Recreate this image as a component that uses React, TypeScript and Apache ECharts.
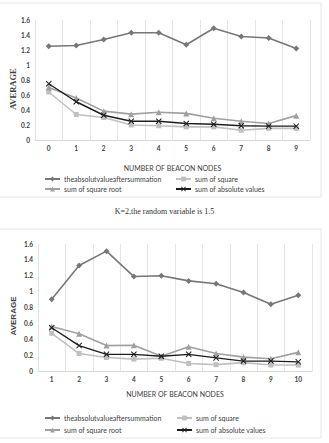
import React, { useEffect, useRef } from "react";
import * as echarts from "echarts";

// Category labels (number of beacon nodes)
const nodesA = ["0", "1", "2", "3", "4", "5", "6", "7", "8", "9"];
const nodesB = ["1", "2", "3", "4", "5", "6", "7", "8", "9", "10"];

// Series names
const NAME_SUM = "theabsolutvalueaftersummation";
const NAME_SQ = "sum of square";
const NAME_ROOT = "sum of square root";
const NAME_ABS = "sum of absolute values";

// Upper chart values
const sumA = [1.25, 1.26, 1.34, 1.43, 1.43, 1.27, 1.49, 1.38, 1.36, 1.22];
const sqA = [0.64, 0.34, 0.3, 0.2, 0.19, 0.175, 0.175, 0.13, 0.155, 0.155];
const rootA = [0.7, 0.56, 0.385, 0.345, 0.37, 0.355, 0.29, 0.25, 0.22, 0.325];
const absA = [0.75, 0.51, 0.33, 0.25, 0.25, 0.22, 0.21, 0.19, 0.185, 0.185];

// Lower chart values
const sumB = [0.905, 1.33, 1.51, 1.19, 1.2, 1.135, 1.1, 0.99, 0.84, 0.955];
const sqB = [0.475, 0.22, 0.17, 0.15, 0.16, 0.095, 0.08, 0.105, 0.075, 0.075];
const rootB = [0.56, 0.47, 0.32, 0.325, 0.185, 0.305, 0.22, 0.175, 0.155, 0.235];
const absB = [0.545, 0.32, 0.21, 0.21, 0.185, 0.21, 0.165, 0.125, 0.125, 0.115];

const CAPTION = "K=2,the random variable is 1.5";
const Y_TITLE = "AVERAGE";

const CROSS =
  "path://M0,1.2L1.2,0L5,3.8L8.8,0L10,1.2L6.2,5L10,8.8L8.8,10L5,6.2L1.2,10L0,8.8L3.8,5Z";

const SANS = "Lato, 'Liberation Sans', sans-serif";

function lineSeries(name: string, data: number[], idx: number, color: string, symbol: string, size: number, width: number, z: number) {
  return {
    type: "line",
    name,
    data,
    xAxisIndex: idx,
    yAxisIndex: idx,
    symbol,
    symbolSize: size,
    lineStyle: { color, width },
    itemStyle: { color, borderWidth: 0 },
    z,
  };
}

function xAxis(idx: number, data: string[], nameGap: number) {
  return {
    type: "category",
    gridIndex: idx,
    data,
    boundaryGap: true,
    name: "NUMBER OF BEACON NODES",
    nameLocation: "middle",
    nameGap,
    nameTextStyle: { fontFamily: SANS, fontSize: 7, color: "#404040" },
    axisLine: { show: true, lineStyle: { color: "#d9d9d9", width: 1 } },
    axisTick: { show: false },
    axisLabel: { fontFamily: SANS, fontSize: 6.5, fontWeight: "bold", color: "#404040", margin: 5 },
    splitLine: { show: true, lineStyle: { color: "#e4e4e4", width: 1 } },
  };
}

function yAxis(idx: number) {
  return {
    type: "value",
    gridIndex: idx,
    min: 0,
    max: 1.6,
    interval: 0.2,
    axisLine: { show: false },
    axisTick: { show: false },
    splitLine: { show: false },
    axisLabel: { fontFamily: SANS, fontSize: 6.5, fontWeight: "bold", color: "#404040", margin: 5 },
  };
}

function legend(left: number, top: number, data: string[], gap: number) {
  return {
    orient: "vertical",
    left,
    top,
    data,
    itemWidth: 15,
    itemHeight: 6,
    itemGap: gap,
    padding: 0,
    selectedMode: false,
    textStyle: { fontFamily: SANS, fontSize: 7, color: "#404040", lineHeight: 7, padding: [0, 0, 0, -1] },
  };
}

function yTitle(x: number, y: number, font: string, size: number) {
  return {
    type: "text",
    x,
    y,
    rotation: Math.PI / 2,
    silent: true,
    style: {
      text: Y_TITLE,
      fontFamily: font,
      fontSize: size,
      fontWeight: "bold",
      fill: "#404040",
      align: "center",
      verticalAlign: "middle",
    },
  };
}

export default function App() {
  const ref = useRef<HTMLDivElement>(null);

  useEffect(() => {
    if (!ref.current) return;
    const chart = echarts.init(ref.current, undefined, { renderer: "svg" });
    chart.setOption({
      animation: false,
      backgroundColor: "#ffffff",
      title: {
        text: CAPTION,
        left: "center",
        top: 207,
        padding: 0,
        textStyle: { fontFamily: "'Liberation Serif', serif", fontSize: 8, fontWeight: "normal", color: "#333" },
      },
      graphic: [
        { type: "rect", shape: { x: -1, y: 3, width: 322, height: 194 }, style: { fill: "none", stroke: "#e6e6e6", lineWidth: 1 }, silent: true },
        { type: "rect", shape: { x: -1, y: 229, width: 322, height: 209 }, style: { fill: "none", stroke: "#e6e6e6", lineWidth: 1 }, silent: true },
        yTitle(13, 89, "'Liberation Serif', serif", 8.5),
        yTitle(13, 316, "'Liberation Sans Narrow', 'Liberation Sans', sans-serif", 8),
      ],
      grid: [
        { left: 35, right: 19, top: 20, height: 120 },
        { left: 38, right: 17, top: 244, height: 127 },
      ],
      xAxis: [xAxis(0, nodesA, 24), xAxis(1, nodesB, 19)],
      yAxis: [yAxis(0), yAxis(1)],
      legend: [
        legend(44, 175.5, [NAME_SUM, NAME_ROOT], 3),
        legend(175, 175.5, [NAME_SQ, NAME_ABS], 3),
        legend(44, 414.5, [NAME_SUM, NAME_ROOT], 5),
        legend(176, 414.5, [NAME_SQ, NAME_ABS], 5),
      ],
      series: [
        lineSeries(NAME_SUM, sumA, 0, "#777777", "diamond", 6, 1.6, 3),
        lineSeries(NAME_SQ, sqA, 0, "#c0c0c0", "rect", 5, 1.6, 2),
        lineSeries(NAME_ROOT, rootA, 0, "#a0a0a0", "triangle", 6, 1.6, 3),
        lineSeries(NAME_ABS, absA, 0, "#1e1e1e", CROSS, 6, 1.4, 4),
        lineSeries(NAME_SUM, sumB, 1, "#777777", "diamond", 6, 1.6, 3),
        lineSeries(NAME_SQ, sqB, 1, "#c0c0c0", "rect", 5, 1.6, 2),
        lineSeries(NAME_ROOT, rootB, 1, "#a0a0a0", "triangle", 6, 1.6, 3),
        lineSeries(NAME_ABS, absB, 1, "#1e1e1e", CROSS, 6, 1.4, 4),
      ],
    });
    return () => chart.dispose();
  }, []);

  return (
    <div
      ref={ref}
      style={{ position: "fixed", left: 0, top: 0, width: 329, height: 443 }}
    />
  );
}
